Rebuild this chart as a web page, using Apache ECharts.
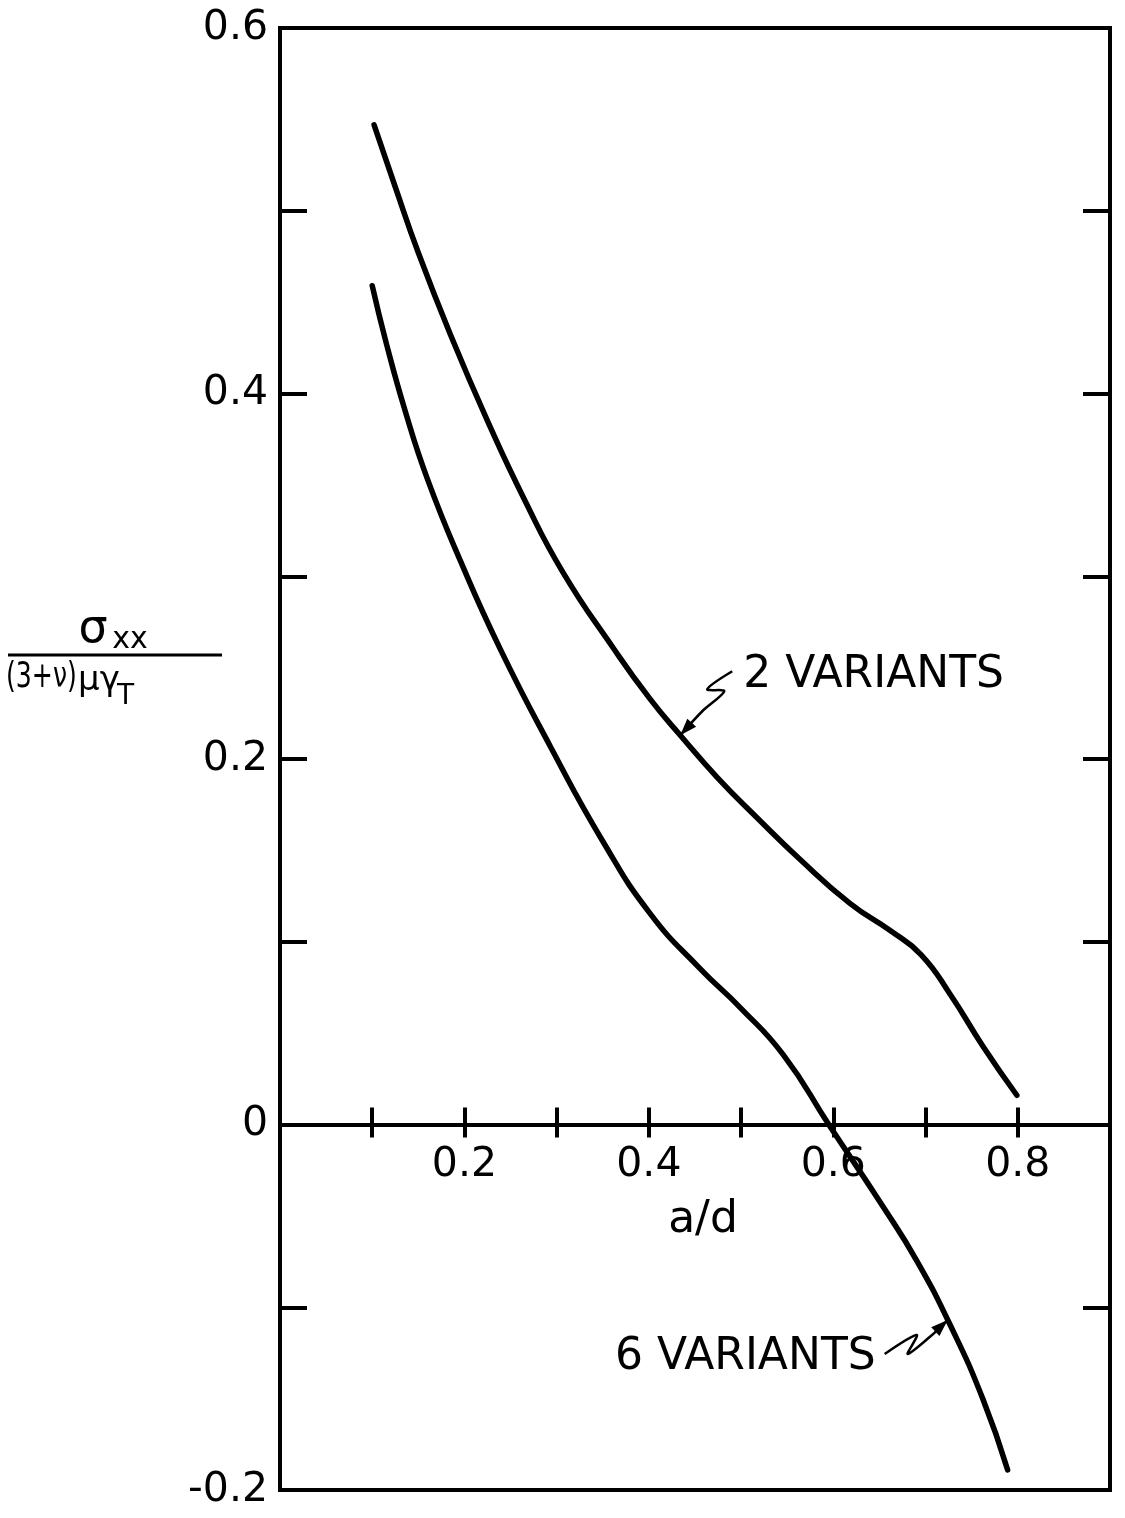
<!DOCTYPE html>
<html>
<head>
<meta charset="utf-8">
<script src="https://cdn.jsdelivr.net/npm/echarts@6/dist/echarts.min.js"></script>
<style>
html,body{margin:0;padding:0;background:#fff;}
#c{width:1125px;height:1518px;}
</style>
</head>
<body>
<div id="c"></div>
<script>
// ---- data ----
const twoVariantsX = [0.102,0.125,0.150,0.185,0.225,0.265,0.307,0.361,0.401,0.434,0.474,0.517,0.564,0.618,0.662,0.695,0.727,0.762,0.799];
const twoVariantsY = [0.547,0.513,0.477,0.432,0.385,0.342,0.302,0.261,0.233,0.213,0.190,0.168,0.145,0.121,0.106,0.093,0.071,0.043,0.016];
const sixVariantsX = [0.100,0.115,0.136,0.160,0.196,0.239,0.293,0.350,0.402,0.456,0.499,0.546,0.595,0.654,0.691,0.727,0.762,0.789];
const sixVariantsY = [0.459,0.428,0.390,0.353,0.308,0.260,0.207,0.155,0.115,0.085,0.064,0.038,0.000,-0.045,-0.075,-0.110,-0.150,-0.189];
const xTickLabels = ['0.2','0.4','0.6','0.8'];
const yTickLabels = ['-0.2','0','0.2','0.4','0.6'];
const seriesNames = ['2 VARIANTS','6 VARIANTS'];
const xAxisName = 'a/d';

const X_MIN = 0, X_MAX = 0.9, Y_MIN = -0.2, Y_MAX = 0.6;
const GRID = {left:280, right:15, top:28, bottom:28};
const gridH = 1518 - GRID.top - GRID.bottom;
// shift the x axes onto the y = 0 line
const zeroOffset = -gridH * (0 - Y_MIN) / (Y_MAX - Y_MIN);

const FONT = 'DejaVu Sans';
const chart = echarts.init(document.getElementById('c'), null, {renderer:'canvas'});

function pairs(xs, ys){ return xs.map((x,i)=>[x, ys[i]]); }

const xFmt = v => { const k = Math.round(v*10); return (k>0 && k%2===0 && k/2-1 < xTickLabels.length) ? xTickLabels[k/2-1] : ''; };
const yFmt = v => { const k = Math.round(v*10); return (k%2===0) ? yTickLabels[(k+2)/2] : ''; };

const lineStyle = {color:'#000', width:5.5, cap:'round', join:'round'};

chart.setOption({
  backgroundColor:'#fff',
  animation:false,
  grid:{left:GRID.left, right:GRID.right, top:GRID.top, bottom:GRID.bottom, show:true, borderColor:'#000', borderWidth:4, outerBoundsMode:'none'},
  xAxis:[{
    type:'value', min:X_MIN, max:X_MAX, interval:0.1, position:'bottom', offset:zeroOffset,
    axisLine:{show:true, onZero:false, lineStyle:{color:'#000', width:4}},
    axisTick:{show:true, inside:false, length:13, lineStyle:{color:'#000', width:4}},
    axisLabel:{formatter:xFmt, margin:20, color:'#000', fontSize:41, fontFamily:FONT, showMinLabel:true, showMaxLabel:true},
    splitLine:{show:false},
    name:xAxisName, nameLocation:'middle', nameGap:74,
    nameTextStyle:{fontSize:44, fontFamily:FONT, color:'#000', padding:[0,0,0,16]}
  },{
    type:'value', min:X_MIN, max:X_MAX, interval:0.1, position:'bottom', offset:zeroOffset,
    axisLine:{show:false, onZero:false},
    axisTick:{show:true, inside:true, length:17, lineStyle:{color:'#000', width:4}},
    axisLabel:{show:false}, splitLine:{show:false}
  }],
  yAxis:[{
    type:'value', min:Y_MIN, max:Y_MAX, interval:0.1, position:'left',
    axisLine:{show:true, onZero:false, lineStyle:{color:'#000', width:4}},
    axisTick:{show:true, inside:true, length:27, lineStyle:{color:'#000', width:4}},
    axisLabel:{formatter:yFmt, margin:12, color:'#000', fontSize:41, fontFamily:FONT, showMinLabel:true, showMaxLabel:true},
    splitLine:{show:false}
  },{
    type:'value', min:Y_MIN, max:Y_MAX, interval:0.1, position:'right',
    axisLine:{show:true, onZero:false, lineStyle:{color:'#000', width:4}},
    axisTick:{show:true, inside:true, length:27, lineStyle:{color:'#000', width:4}},
    axisLabel:{show:false}, splitLine:{show:false}
  }],
  series:[
    {name:seriesNames[0], type:'line', xAxisIndex:0, yAxisIndex:0, data:pairs(twoVariantsX, twoVariantsY), smooth:0.5, showSymbol:false, symbol:'none', lineStyle:lineStyle, z:5},
    {name:seriesNames[1], type:'line', xAxisIndex:0, yAxisIndex:0, data:pairs(sixVariantsX, sixVariantsY), smooth:0.5, showSymbol:false, symbol:'none', lineStyle:lineStyle, z:5}
  ]
});

// ---- annotations anchored to curve points ----
function arrowHead(tip, from, len, half){
  const dx = tip[0]-from[0], dy = tip[1]-from[1];
  const d = Math.hypot(dx,dy); const ux = dx/d, uy = dy/d;
  const bx = tip[0]-ux*len, by = tip[1]-uy*len;
  return [tip, [bx - uy*half, by + ux*half], [bx + uy*half, by - ux*half]];
}
const g = [];
const t2 = chart.convertToPixel({xAxisIndex:0, yAxisIndex:0}, [twoVariantsX[9], twoVariantsY[9]]);
const sq2 = [[52,-64],[27,-46],[44,-44],[22,-24],[0,0]].map(p=>[t2[0]+p[0], t2[1]+p[1]]);
g.push({type:'polyline', shape:{points:sq2, smooth:0.3}, style:{stroke:'#000', lineWidth:2.5, fill:null}, z:10});
g.push({type:'polygon', shape:{points:arrowHead(sq2[4], sq2[3], 17, 6)}, style:{fill:'#000'}, z:10});
g.push({type:'text', x:t2[0]+63, y:t2[1]-60, style:{text:seriesNames[0], font:'44px "DejaVu Sans"', fill:'#000', align:'left', verticalAlign:'middle'}, z:10});

const t6 = chart.convertToPixel({xAxisIndex:0, yAxisIndex:0}, [0.724, -0.107]);
const sq6 = [[-63,34],[-31,15],[-40,34],[-18,17],[0,0]].map(p=>[t6[0]+p[0], t6[1]+p[1]]);
g.push({type:'polyline', shape:{points:sq6, smooth:0.3}, style:{stroke:'#000', lineWidth:2.5, fill:null}, z:10});
g.push({type:'polygon', shape:{points:arrowHead(sq6[4], sq6[3], 17, 6)}, style:{fill:'#000'}, z:10});
g.push({type:'text', x:t6[0]-72, y:t6[1]+38, style:{text:seriesNames[1], font:'44px "DejaVu Sans"', fill:'#000', align:'right', verticalAlign:'middle'}, z:10});

// ---- y-axis title as a fraction ----
g.push({type:'text', x:93, y:630, style:{text:'σ', font:'46px "DejaVu Sans"', fill:'#000', align:'center', verticalAlign:'middle'}});
g.push({type:'text', x:130, y:640, style:{text:'xx', font:'30px "DejaVu Sans"', fill:'#000', align:'center', verticalAlign:'middle'}});
g.push({type:'line', shape:{x1:8, y1:655, x2:222, y2:655}, style:{stroke:'#000', lineWidth:3}});
g.push({type:'text', x:6, y:678, scaleX:0.7, style:{text:'(3+ν)', font:'36px "DejaVu Sans"', fill:'#000', align:'left', verticalAlign:'middle'}});
g.push({type:'text', x:78, y:681, style:{text:'μγ', font:'34px "DejaVu Sans"', fill:'#000', align:'left', verticalAlign:'middle'}});
g.push({type:'text', x:117, y:697, style:{text:'T', font:'28px "DejaVu Sans"', fill:'#000', align:'left', verticalAlign:'middle'}});

chart.setOption({graphic:g});
</script>
</body>
</html>
